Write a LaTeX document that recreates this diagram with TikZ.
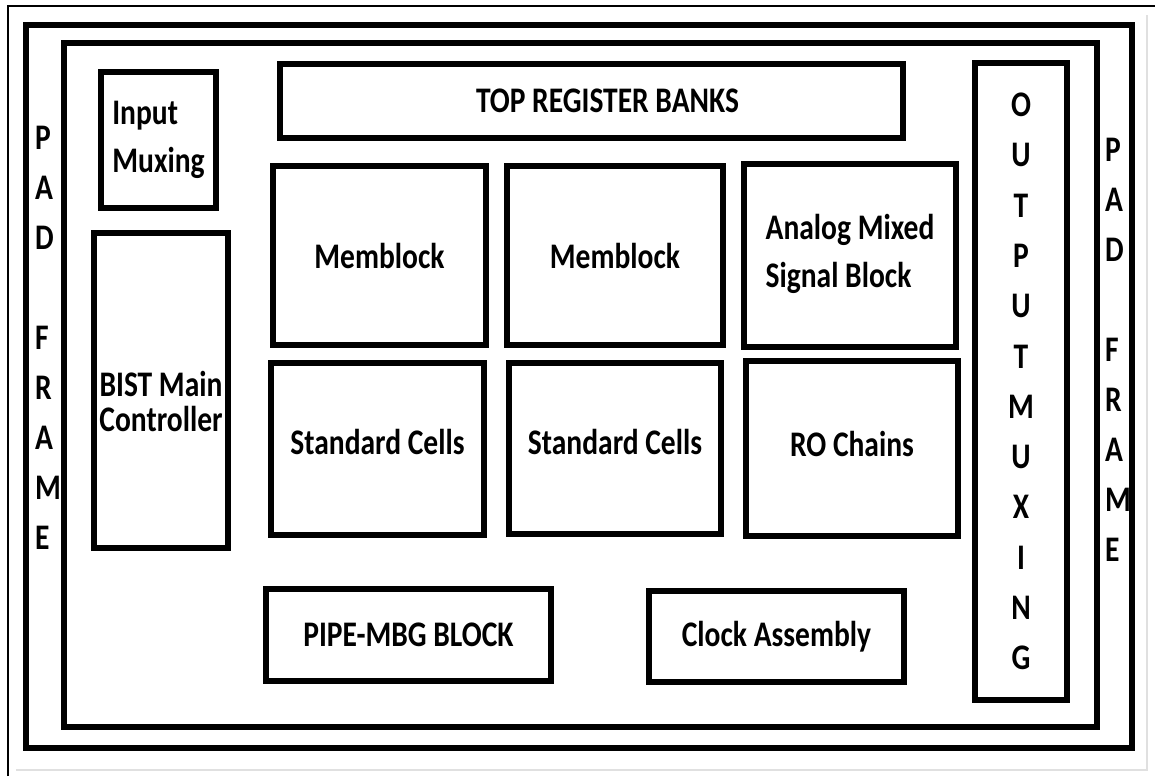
\documentclass[tikz,border=0pt]{standalone}
\usepackage{fontspec}
\setmainfont{Carlito}[FakeStretch=0.82]
\newcommand\blocklabelfont{\fontsize{36}{48}\selectfont\bfseries}
\begin{document}
\begin{tikzpicture}[x=1pt,y=-1pt,
  ringline/.style={draw, line width=6pt},
  blockbox/.style={draw, line width=5.5pt, inner sep=0pt, align=center,
    font=\blocklabelfont, text=black},
  letters/.style={inner sep=0pt, font=\fontsize{36}{50}\selectfont\bfseries}
]
\useasboundingbox (0,0) rectangle (1155,776);

% page border: dark on top and left, light on right and bottom
\coordinate (pgTL) at (8,6);
\coordinate (pgTR) at (1155,6);
\coordinate (pgBL) at (8,776);
\draw[line width=1.2pt] (pgBL) -- (pgTL) -- (pgTR);
\coordinate (shTR) at (1147,15);
\coordinate (shBR) at (1147,770);
\coordinate (shBL) at (16,770);
\draw[line width=1.5pt, black!12] (shTR) -- (shBR) -- (shBL);

% pad ring and core boundary
\node[ringline, inner sep=0pt, minimum width=1106pt, minimum height=723pt] (pad) at (579,386.5) {};
\node[ringline, inner sep=0pt, minimum width=1033pt, minimum height=684pt] (core) at (580.5,385) {};

% pad frame labels, one letter per line
\node[letters, anchor=west, align=left] (padL) at (35,337.5) {P\\A\\D\\[50pt]F\\R\\A\\M\\E};
\node[letters, anchor=west, align=left] (padR) at (1105,350) {P\\A\\D\\[50pt]F\\R\\A\\M\\E};

% left column
\node[blockbox, minimum width=115pt, minimum height=136pt, align=left] (inmux) at (158.5,140) {Input\\Muxing};
\node[blockbox, minimum width=134pt, minimum height=315pt, text height=82pt, font=\fontsize{36}{35}\selectfont\bfseries] (bist) at (161,390.5) {BIST Main\\Controller};

% register banks across the top
\node[blockbox, minimum width=623pt, minimum height=74pt] (topreg) at (591.5,101) {\hspace*{32pt}TOP REGISTER BANKS};

% block array
\node[blockbox, minimum width=213pt, minimum height=179pt] (mem1) at (379.5,255.5) {Memblock};
\node[blockbox, minimum width=216pt, minimum height=179pt] (mem2) at (615,255.5) {Memblock};
\node[blockbox, minimum width=212pt, minimum height=183pt, align=left, text depth=10pt] (ams) at (850,255.5) {Analog Mixed\\Signal Block};
\node[blockbox, minimum width=213pt, minimum height=172pt, text depth=14pt] (sc1) at (377.5,449) {Standard Cells};
\node[blockbox, minimum width=212pt, minimum height=171pt, text depth=14pt] (sc2) at (615,448.5) {Standard Cells};
\node[blockbox, minimum width=212pt, minimum height=175pt, text depth=10pt] (ro) at (852,448.5) {RO Chains};

% bottom blocks
\node[blockbox, minimum width=285pt, minimum height=92pt] (pipe) at (408.5,635) {PIPE-MBG BLOCK};
\node[blockbox, minimum width=255pt, minimum height=91pt] (clk) at (776.5,636.5) {Clock Assembly};

% output muxing column
\node[blockbox, minimum width=92pt, minimum height=637pt, font=\fontsize{36}{50.3}\selectfont\bfseries] (outmux) at (1021,381.5) {O\\U\\T\\P\\U\\T\\M\\U\\X\\I\\N\\G};
\end{tikzpicture}
\end{document}
